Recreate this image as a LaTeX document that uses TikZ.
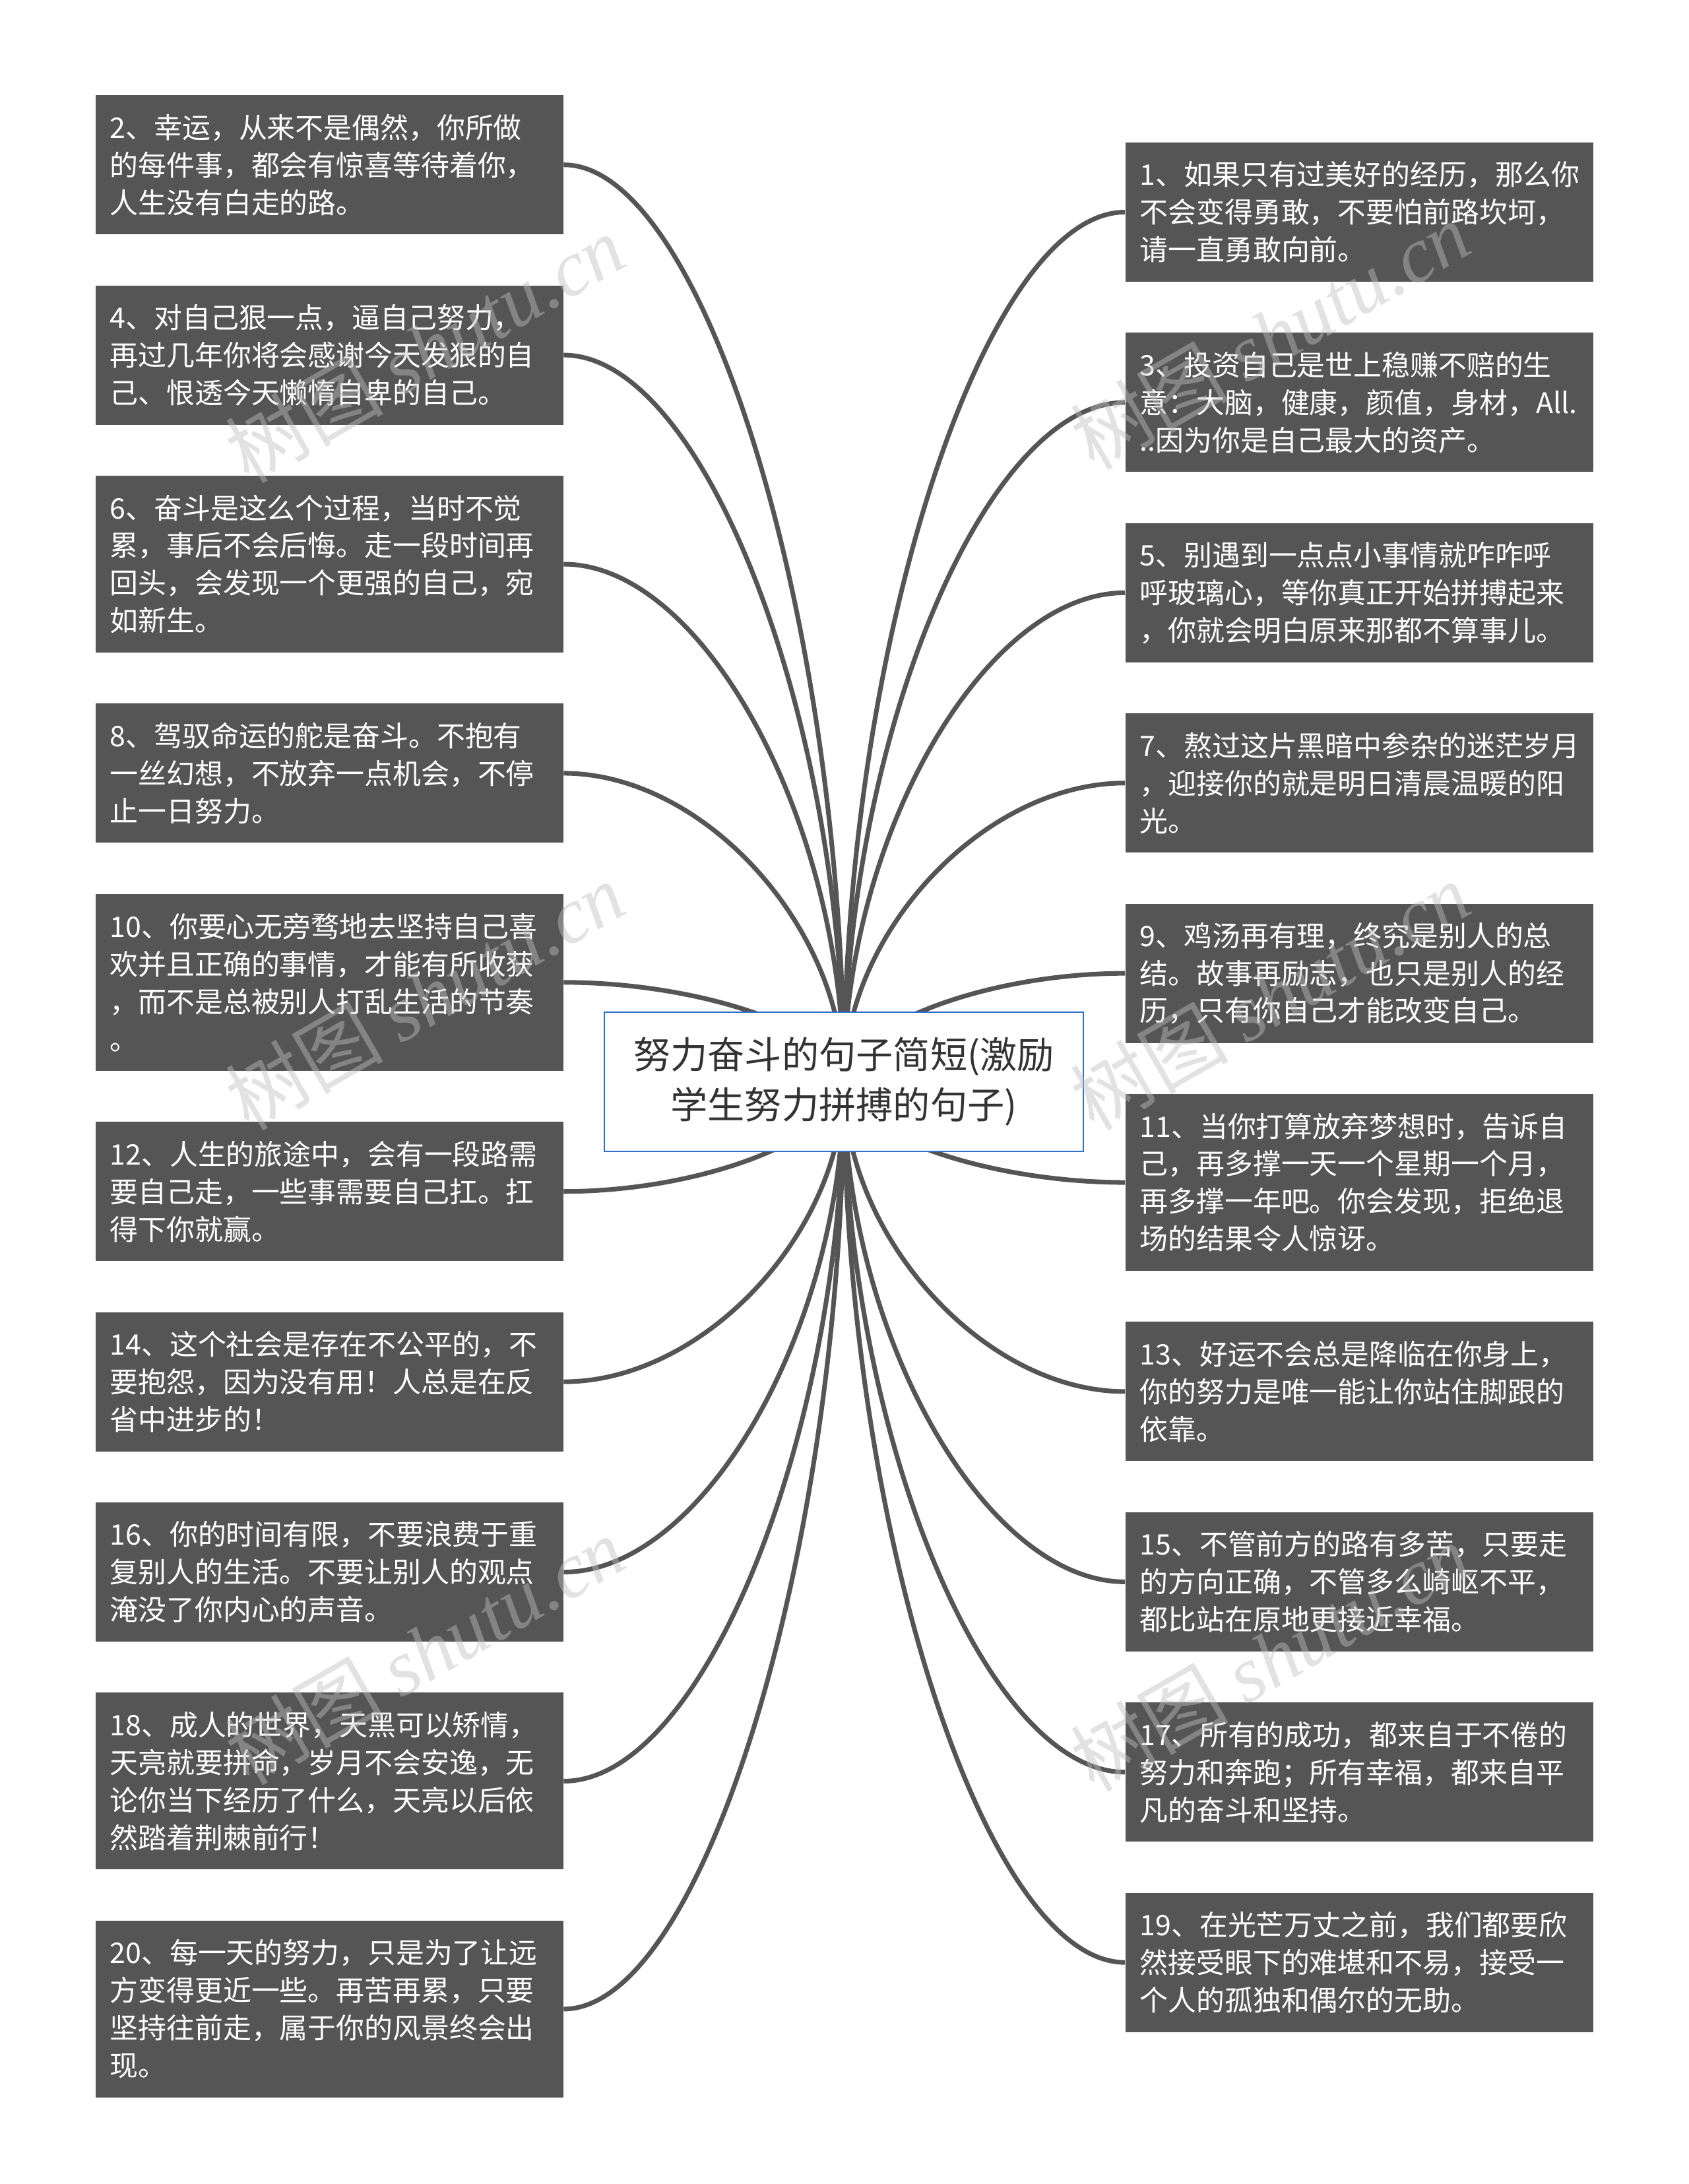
\documentclass[tikz,border=0pt]{standalone}
\usepackage{fontspec}
\setmainfont{Noto Sans CJK SC}
\newfontfamily\wmlatin{Liberation Serif}
\usepackage{tikz}
\usepackage{xcolor}
\usetikzlibrary{positioning,calc,backgrounds}

\definecolor{leafgray}{HTML}{555555}
\definecolor{rootblue}{HTML}{2F6ECF}
\definecolor{roottext}{HTML}{333333}

\begin{document}
\begin{tikzpicture}[
    leaf/.style={fill=leafgray, text=white, text width=6.65cm, align=left,
        inner xsep=0.22cm, inner ysep=0pt, minimum height=2.11cm,
        font=\fontsize{12.2pt}{16.2pt}\selectfont},
    tall/.style={minimum height=2.68cm},
    root/.style={fill=white, draw=rootblue, line width=0.6pt, text=roottext,
        minimum width=7.26cm, minimum height=2.11cm, align=center,
        font=\fontsize{16pt}{21.6pt}\selectfont},
    branch/.style={draw=leafgray, line width=2pt},
    wmark/.style={text=black!25, text opacity=0.45, rotate=30,
        font=\fontsize{34pt}{34pt}\selectfont}
]
    \useasboundingbox (0,0) rectangle (25.6,-33.1);

    % Central topic
    \node[root] (root) at (12.79,-16.395) {努力奋斗的句子简短(激励\\学生努力拼搏的句子)};

    % Left column (even numbers)
    \node[leaf, anchor=north west] (b2) at (1.44,-1.435) {2、幸运，从来不是偶然，你所做\\的每件事，都会有惊喜等待着你，\\人生没有白走的路。};
    \node[leaf, below=0.76cm of b2] (b4) {4、对自己狠一点，逼自己努力，\\再过几年你将会感谢今天发狠的自\\己、恨透今天懒惰自卑的自己。};
    \node[leaf, tall, below=0.76cm of b4] (b6) {6、奋斗是这么个过程，当时不觉\\累，事后不会后悔。走一段时间再\\回头，会发现一个更强的自己，宛\\如新生。};
    \node[leaf, below=0.76cm of b6] (b8) {8、驾驭命运的舵是奋斗。不抱有\\一丝幻想，不放弃一点机会，不停\\止一日努力。};
    \node[leaf, tall, below=0.76cm of b8] (b10) {10、你要心无旁骛地去坚持自己喜\\欢并且正确的事情，才能有所收获\\，而不是总被别人打乱生活的节奏\\。};
    \node[leaf, below=0.76cm of b10] (b12) {12、人生的旅途中，会有一段路需\\要自己走，一些事需要自己扛。扛\\得下你就赢。};
    \node[leaf, below=0.76cm of b12] (b14) {14、这个社会是存在不公平的，不\\要抱怨，因为没有用！人总是在反\\省中进步的！};
    \node[leaf, below=0.76cm of b14] (b16) {16、你的时间有限，不要浪费于重\\复别人的生活。不要让别人的观点\\淹没了你内心的声音。};
    \node[leaf, tall, below=0.76cm of b16] (b18) {18、成人的世界，天黑可以矫情，\\天亮就要拼命，岁月不会安逸，无\\论你当下经历了什么，天亮以后依\\然踏着荆棘前行！};
    \node[leaf, tall, below=0.76cm of b18] (b20) {20、每一天的努力，只是为了让远\\方变得更近一些。再苦再累，只要\\坚持往前走，属于你的风景终会出\\现。};

    % Right column (odd numbers)
    \node[leaf, anchor=north west] (b1) at (17.05,-2.153) {1、如果只有过美好的经历，那么你\\不会变得勇敢，不要怕前路坎坷，\\请一直勇敢向前。};
    \node[leaf, below=0.76cm of b1] (b3) {3、投资自己是世上稳赚不赔的生\\意：大脑，健康，颜值，身材，All.\\..因为你是自己最大的资产。};
    \node[leaf, below=0.76cm of b3] (b5) {5、别遇到一点点小事情就咋咋呼\\呼玻璃心，等你真正开始拼搏起来\\，你就会明白原来那都不算事儿。};
    \node[leaf, below=0.76cm of b5] (b7) {7、熬过这片黑暗中参杂的迷茫岁月\\，迎接你的就是明日清晨温暖的阳\\光。};
    \node[leaf, below=0.76cm of b7] (b9) {9、鸡汤再有理，终究是别人的总\\结。故事再励志，也只是别人的经\\历，只有你自己才能改变自己。};
    \node[leaf, tall, below=0.76cm of b9] (b11) {11、当你打算放弃梦想时，告诉自\\己，再多撑一天一个星期一个月，\\再多撑一年吧。你会发现，拒绝退\\场的结果令人惊讶。};
    \node[leaf, below=0.76cm of b11] (b13) {13、好运不会总是降临在你身上，\\你的努力是唯一能让你站住脚跟的\\依靠。};
    \node[leaf, below=0.76cm of b13] (b15) {15、不管前方的路有多苦，只要走\\的方向正确，不管多么崎岖不平，\\都比站在原地更接近幸福。};
    \node[leaf, below=0.76cm of b15] (b17) {17、所有的成功，都来自于不倦的\\努力和奔跑；所有幸福，都来自平\\凡的奋斗和坚持。};
    \node[leaf, below=0.76cm of b17] (b19) {19、在光芒万丈之前，我们都要欣\\然接受眼下的难堪和不易，接受一\\个人的孤独和偶尔的无助。};

    % Curved branches, kept behind the boxes
    \begin{pgfonlayer}{background}
        \fill[white] (0,0) rectangle (25.6,-33.1);
        \foreach \b in {b2,b4,b6,b8,b10,b12,b14,b16,b18,b20}
            \draw[branch] let \p1=(root.center), \p2=(\b.east) in
                (\p1) .. controls (\x1,{(\y1+\y2)/2}) and ({(\x1+\x2)/2},\y2) .. (\p2);
        \foreach \b in {b1,b3,b5,b7,b9,b11,b13,b15,b17,b19}
            \draw[branch] let \p1=(root.center), \p2=(\b.west) in
                (\p1) .. controls (\x1,{(\y1+\y2)/2}) and ({(\x1+\x2)/2},\y2) .. (\p2);
    \end{pgfonlayer}

    % Watermarks
    \node[wmark] (wm1) at (6.44,-5.28) {树图 {\wmlatin\itshape shutu.cn}};
    \node[wmark] (wm2) at (6.44,-15.09) {树图 {\wmlatin\itshape shutu.cn}};
    \node[wmark] (wm3) at (6.44,-25.01) {树图 {\wmlatin\itshape shutu.cn}};
    \node[wmark] (wm4) at (19.25,-5.08) {树图 {\wmlatin\itshape shutu.cn}};
    \node[wmark] (wm5) at (19.25,-15.09) {树图 {\wmlatin\itshape shutu.cn}};
    \node[wmark] (wm6) at (19.25,-25.11) {树图 {\wmlatin\itshape shutu.cn}};
\end{tikzpicture}
\end{document}
